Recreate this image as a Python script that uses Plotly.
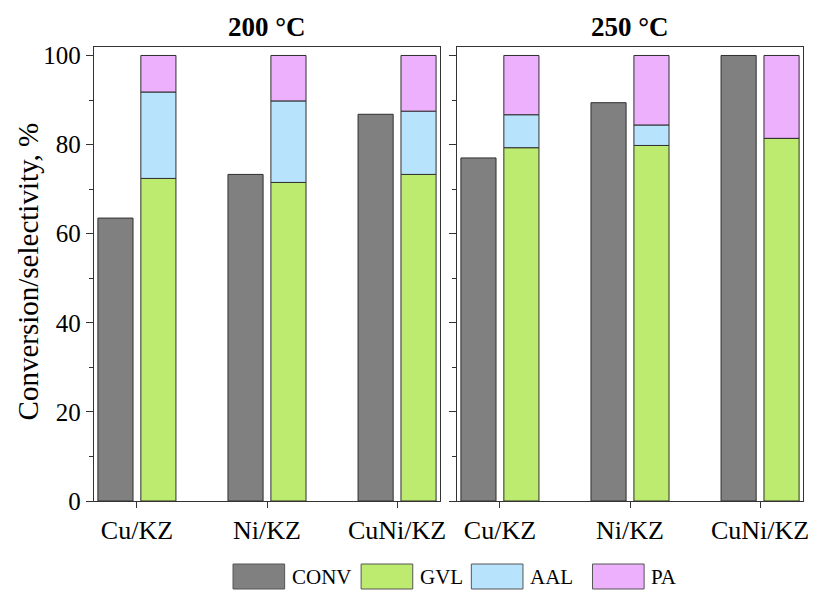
import plotly.graph_objects as go

catalysts = ["Cu/KZ", "Ni/KZ", "CuNi/KZ"]
temps = ["200 °C", "250 °C"]
y_title = "Conversion/selectivity, %"

conv_200 = [63.5, 73.3, 86.8]
gvl_200 = [72.4, 71.5, 73.3]
aal_200 = [19.4, 18.3, 14.2]
pa_200 = [8.2, 10.2, 12.5]

conv_250 = [77.0, 89.4, 100.0]
gvl_250 = [79.3, 79.8, 81.4]
aal_250 = [7.4, 4.6, 0.0]
pa_250 = [13.3, 15.6, 18.6]

series_names = ["CONV", "GVL", "AAL", "PA"]
colors = {"CONV": "#808080", "GVL": "#BDEB70", "AAL": "#B8E3FC", "PA": "#ECB0FC"}
edge = "#2f2f2f"

FONT = "Liberation Serif"
BAR_W = 0.27

W, H = 821, 590
ML, MR, MT, MB = 94, 13, 47, 89
PW, PH = W - ML - MR, H - MT - MB


def px_x(px):
    return (px - ML) / PW


def px_y(py):
    return (H - MB - py) / PH


fig = go.Figure()

panels = [
    (conv_200, gvl_200, aal_200, pa_200, "x", "y"),
    (conv_250, gvl_250, aal_250, pa_250, "x2", "y2"),
]

for i, (conv, gvl, aal, pa, xa, ya) in enumerate(panels):
    fig.add_trace(go.Bar(
        x=catalysts, y=conv, name="CONV", width=BAR_W, offset=-0.30,
        marker=dict(color=colors["CONV"], line=dict(color=edge, width=1)),
        xaxis=xa, yaxis=ya, showlegend=False))
    base_aal = list(gvl)
    base_pa = [g + a for g, a in zip(gvl, aal)]
    for name, vals, base in [("GVL", gvl, [0, 0, 0]), ("AAL", aal, base_aal), ("PA", pa, base_pa)]:
        fig.add_trace(go.Bar(
            x=catalysts, y=vals, base=base, name=name, width=BAR_W, offset=0.03,
            marker=dict(color=colors[name], line=dict(color=edge, width=1)),
            xaxis=xa, yaxis=ya, showlegend=False))

axis_line = dict(showline=True, linecolor="#333333", linewidth=1.3, mirror=True)
xcommon = dict(range=[-0.33, 2.33], ticks="outside", ticklen=6, tickcolor="#333333",
               tickfont=dict(family=FONT, size=26, color="black"), showgrid=False, **axis_line)
ycommon = dict(range=[0, 101.9], tickvals=[0, 20, 40, 60, 80, 100], ticks="outside", ticklen=7,
               tickcolor="#333333", showgrid=False, zeroline=False,
               minor=dict(dtick=10, ticks="outside", ticklen=4, tickcolor="#333333", showgrid=False),
               tickfont=dict(family=FONT, size=25, color="black"), **axis_line)

fig.update_layout(
    width=W, height=H,
    margin=dict(l=ML, r=MR, t=MT, b=MB),
    plot_bgcolor="white", paper_bgcolor="white",
    barmode="overlay",
    font=dict(family=FONT, color="black"),
    xaxis=dict(domain=[0, 0.488], **xcommon),
    xaxis2=dict(domain=[0.512, 1], anchor="y2", **xcommon),
    yaxis=dict(**ycommon),
    yaxis2=dict(anchor="x2", showticklabels=False, **ycommon),
    showlegend=False,
)

fig.add_annotation(text=y_title, x=px_x(28), y=px_y(271), xref="paper", yref="paper",
                   xanchor="center", yanchor="middle", textangle=-90, showarrow=False,
                   font=dict(family=FONT, size=29, color="black"))

for t, (x0, x1) in zip(temps, [(0, 0.488), (0.512, 1)]):
    fig.add_annotation(text=f"<b>{t}</b>", x=(x0 + x1) / 2, y=px_y(27), xref="paper", yref="paper",
                       xanchor="center", yanchor="middle", showarrow=False,
                       font=dict(family=FONT, size=27, color="black"))

# legend drawn as swatches + labels below the plot
legend_box_left = [234, 363, 474, 596]
for name, bx in zip(series_names, legend_box_left):
    fig.add_shape(type="rect", xref="paper", yref="paper",
                  x0=px_x(bx), x1=px_x(bx + 52), y0=px_y(589), y1=px_y(564),
                  fillcolor=colors[name], line=dict(color="#555555", width=1))
    fig.add_annotation(text=name, x=px_x(bx + 57), y=px_y(577), xref="paper", yref="paper",
                       xanchor="left", yanchor="middle", showarrow=False,
                       font=dict(family=FONT, size=21, color="black"))

fig.write_html("out.html", config={"displayModeBar": False},
               post_script="document.body.style.margin='0';")
